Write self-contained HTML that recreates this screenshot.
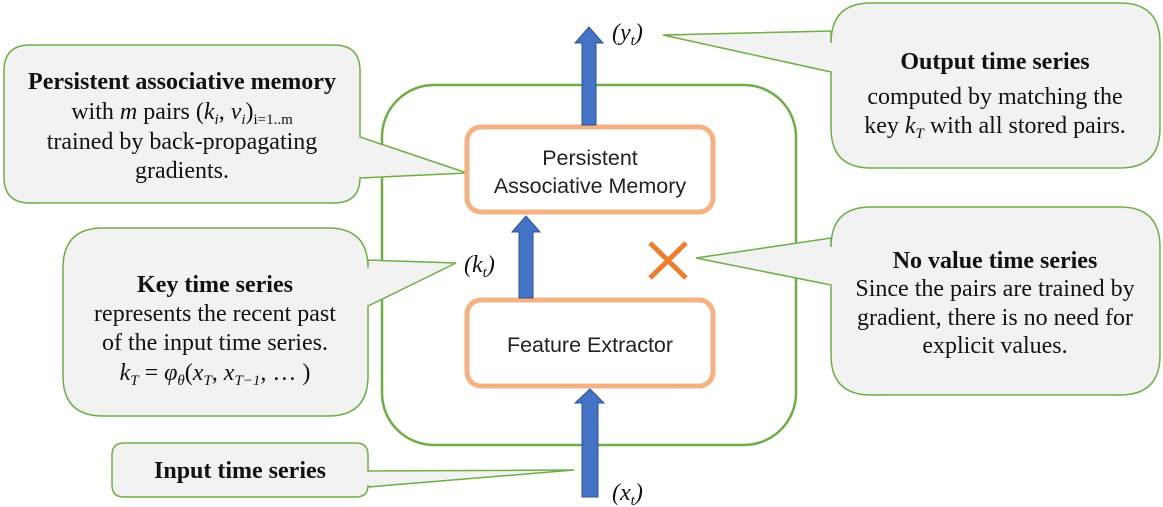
<!DOCTYPE html>
<html><head><meta charset="utf-8"><style>
html,body{margin:0;padding:0;background:#fff;}
svg{display:block;}
.t{font-family:"Liberation Serif",serif;font-size:24px;fill:#111;}
.b{font-weight:bold;}
.s{font-family:"Liberation Sans",sans-serif;font-size:21.5px;fill:#222;}
</style></head><body>
<svg width="1163" height="507" viewBox="0 0 1163 507" xmlns="http://www.w3.org/2000/svg">
<rect x="382" y="85" width="414" height="360" rx="52" fill="none" stroke="#70ad47" stroke-width="2.5"/>
<g fill="#f2f2f2" stroke="#70ad47" stroke-width="1.5">
<path d="M30,45 H334 Q360,45 360,71 V137 L467,173 L360,178 V177 Q360,203 334,203 H30 Q4,203 4,177 V71 Q4,45 30,45 Z"/>
<path d="M103,228 H328 Q368,228 368,268 V260 L456,263 L368,306 V376 Q368,416 328,416 H103 Q63,416 63,376 V268 Q63,228 103,228 Z"/>
<path d="M124,443 H356 Q368,443 368,455 V471 L574,470 L368,487 V485 Q368,497 356,497 H124 Q112,497 112,485 V455 Q112,443 124,443 Z"/>
<path d="M871,3 H1120 Q1160,3 1160,43 V128 Q1160,168 1120,168 H871 Q831,168 831,128 V72 L663,35 L831,31 V43 Q831,3 871,3 Z"/>
<path d="M871,207 H1120 Q1160,207 1160,247 V355 Q1160,395 1120,395 H871 Q831,395 831,355 V285 L696,258 L831,238 V247 Q831,207 871,207 Z"/>
</g>
<rect x="467" y="127" width="246" height="85" rx="14" fill="#fff" stroke="#f4b183" stroke-width="5"/>
<rect x="467" y="300" width="246" height="86" rx="14" fill="#fff" stroke="#f4b183" stroke-width="5"/>
<text class="s" x="590" y="165" text-anchor="middle">Persistent</text>
<text class="s" x="590" y="193" text-anchor="middle">Associative Memory</text>
<text class="s" x="590" y="352" text-anchor="middle">Feature Extractor</text>
<g fill="#4472c4" stroke="#2f528f" stroke-width="1">
<path d="M582,125 V43 H575 L589,27 L603,43 H596 V125 Z"/>
<path d="M519,298 V232 H512 L526,216 L540,232 H533 V298 Z"/>
<path d="M582,497 V403 H575 L590,389 L604,403 H598 V497 Z"/>
</g>
<g stroke="#ed7d31" stroke-width="5"><line x1="650" y1="243" x2="686" y2="278"/><line x1="686" y1="243" x2="650" y2="278"/></g>
<text class="t" x="612" y="40" font-style="italic">(y<tspan font-size="15" dy="5">t</tspan><tspan dy="-5">)</tspan></text>
<text class="t" x="464" y="272" font-style="italic">(k<tspan font-size="15" dy="5">t</tspan><tspan dy="-5">)</tspan></text>
<text class="t" x="612" y="500" font-style="italic">(x<tspan font-size="15" dy="5">t</tspan><tspan dy="-5">)</tspan></text>
<text class="t b" x="182" y="89" text-anchor="middle">Persistent associative memory</text>
<text class="t" x="182" y="119" text-anchor="middle">with <tspan font-style="italic">m</tspan> pairs (<tspan font-style="italic">k</tspan><tspan font-size="15" dy="5" font-style="italic">i</tspan><tspan dy="-5">, </tspan><tspan font-style="italic">v</tspan><tspan font-size="15" dy="5" font-style="italic">i</tspan><tspan dy="-5">)</tspan><tspan font-size="15" dy="5">i=1..m</tspan></text>
<text class="t" x="182" y="149" text-anchor="middle">trained by back-propagating</text>
<text class="t" x="182" y="178" text-anchor="middle">gradients.</text>
<text class="t b" x="215" y="292" text-anchor="middle">Key time series</text>
<text class="t" x="215" y="321" text-anchor="middle">represents the recent past</text>
<text class="t" x="215" y="350" text-anchor="middle">of the input time series.</text>
<text class="t" x="215" y="380" text-anchor="middle"><tspan font-style="italic">k</tspan><tspan font-size="15" dy="5" font-style="italic">T</tspan><tspan dy="-5"> = </tspan><tspan font-style="italic">φ</tspan><tspan font-size="15" dy="5" font-style="italic">θ</tspan><tspan dy="-5">(</tspan><tspan font-style="italic">x</tspan><tspan font-size="15" dy="5" font-style="italic">T</tspan><tspan dy="-5">, </tspan><tspan font-style="italic">x</tspan><tspan font-size="15" dy="5" font-style="italic">T−1</tspan><tspan dy="-5">, … )</tspan></text>
<text class="t b" x="240" y="478" text-anchor="middle">Input time series</text>
<text class="t b" x="995" y="69" text-anchor="middle">Output time series</text>
<text class="t" x="995" y="104" text-anchor="middle">computed by matching the</text>
<text class="t" x="995" y="133" text-anchor="middle">key <tspan font-style="italic">k</tspan><tspan font-size="15" dy="5" font-style="italic">T</tspan><tspan dy="-5"> with all stored pairs.</tspan></text>
<text class="t b" x="995" y="268" text-anchor="middle">No value time series</text>
<text class="t" x="995" y="296" text-anchor="middle">Since the pairs are trained by</text>
<text class="t" x="995" y="325" text-anchor="middle">gradient, there is no need for</text>
<text class="t" x="995" y="353" text-anchor="middle">explicit values.</text>
</svg>
</body></html>
